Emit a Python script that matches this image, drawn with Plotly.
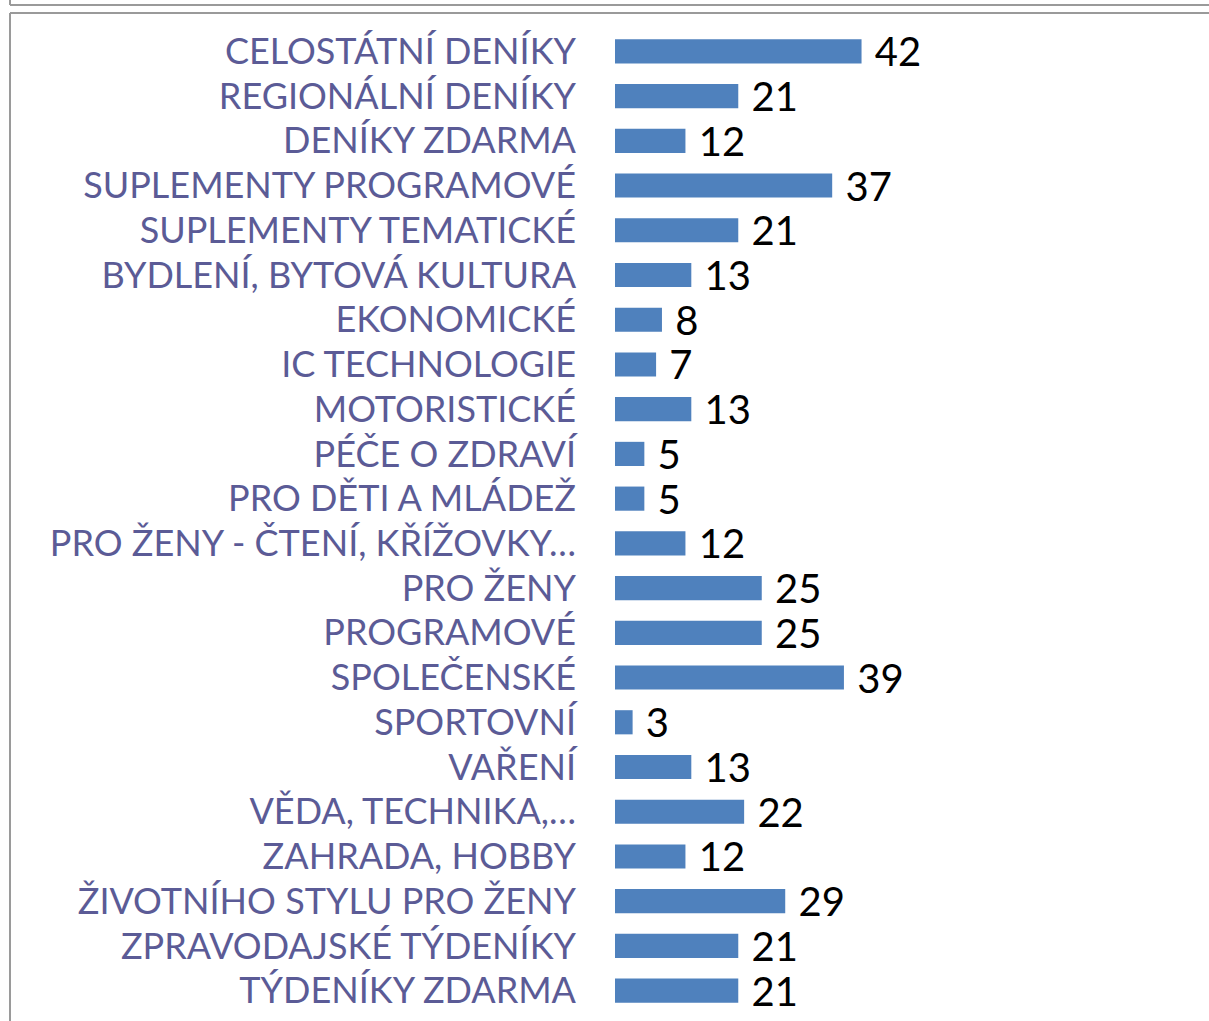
import plotly.graph_objects as go

categories = [
    "CELOSTÁTNÍ DENÍKY", "REGIONÁLNÍ DENÍKY", "DENÍKY ZDARMA",
    "SUPLEMENTY PROGRAMOVÉ", "SUPLEMENTY TEMATICKÉ", "BYDLENÍ, BYTOVÁ KULTURA",
    "EKONOMICKÉ", "IC TECHNOLOGIE", "MOTORISTICKÉ", "PÉČE O ZDRAVÍ",
    "PRO DĚTI A MLÁDEŽ", "PRO ŽENY - ČTENÍ, KŘÍŽOVKY…", "PRO ŽENY", "PROGRAMOVÉ",
    "SPOLEČENSKÉ", "SPORTOVNÍ", "VAŘENÍ", "VĚDA, TECHNIKA,…", "ZAHRADA, HOBBY",
    "ŽIVOTNÍHO STYLU PRO ŽENY", "ZPRAVODAJSKÉ TÝDENÍKY", "TÝDENÍKY ZDARMA",
]
values = [42, 21, 12, 37, 21, 13, 8, 7, 13, 5, 5, 12, 25, 25, 39, 3, 13, 22, 12, 29, 21, 21]

W, H = 1209, 1021
L, R, T, B = 615, 7, 29, 8
pw, ph = W - L - R, H - T - B

def px(x):
    return (x - L) / pw

def py(y):
    return (H - B - y) / ph

fig = go.Figure(go.Bar(
    y=categories, x=values, orientation="h",
    marker=dict(color="#4f81bd", line=dict(width=0)),
    width=0.54,
    text=[f" {v}" for v in values], textposition="outside",
    constraintext="none",
    textfont=dict(family="Lato", size=40, color="black"),
    cliponaxis=False,
))

line = dict(color="#9a9a9a", width=2)
shapes = [
    dict(type="line", xref="paper", yref="paper", x0=px(10), x1=px(1209), y0=py(5), y1=py(5), line=line),
    dict(type="line", xref="paper", yref="paper", x0=px(10), x1=px(10), y0=py(0), y1=py(5), line=line),
    dict(type="line", xref="paper", yref="paper", x0=px(10), x1=px(1209), y0=py(13), y1=py(13), line=line),
    dict(type="line", xref="paper", yref="paper", x0=px(10), x1=px(10), y0=py(13), y1=py(1021), line=line),
]

fig.update_layout(
    width=W, height=H,
    margin=dict(l=L, r=R, t=T, b=B, autoexpand=False),
    plot_bgcolor="white", paper_bgcolor="white",
    showlegend=False,
    shapes=shapes,
    xaxis=dict(range=[0, 100], visible=False, fixedrange=True),
    yaxis=dict(
        autorange="reversed", showgrid=False, showline=False, ticks="",
        tickfont=dict(family="Lato", size=36, color="#5b5b96"),
        ticklabelstandoff=38, automargin=False, fixedrange=True,
    ),
)

fig.write_html(
    "out.html",
    config={"displayModeBar": False},
    post_script="document.body.style.margin='0';document.body.style.overflow='hidden';",
)
